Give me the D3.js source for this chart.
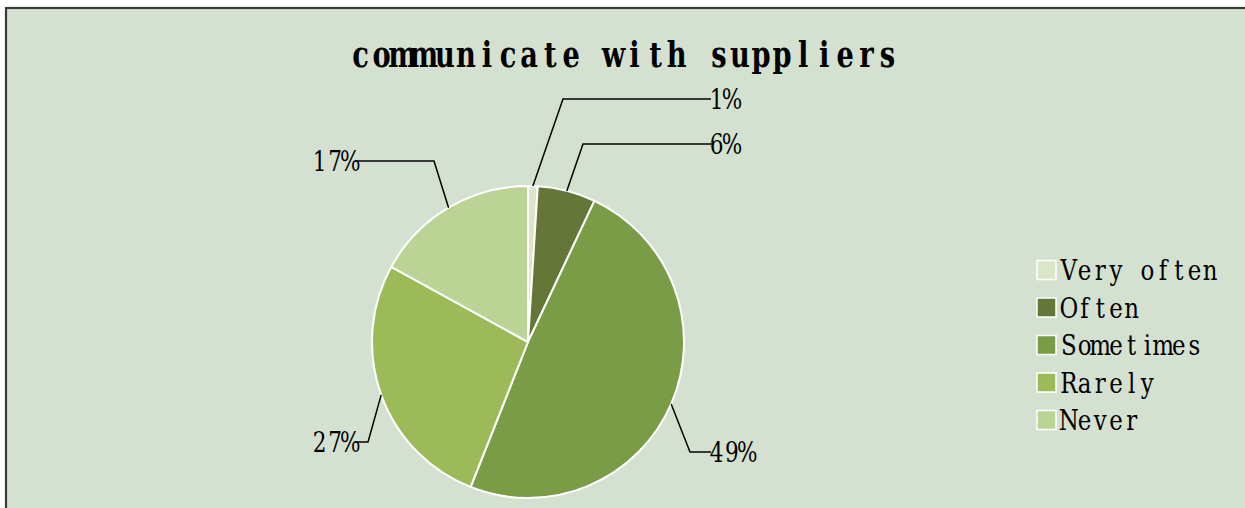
<!DOCTYPE html>
<html>
<head>
<meta charset="utf-8">
<script src="https://cdn.jsdelivr.net/npm/d3@7"></script>
<style>
  html, body { margin: 0; padding: 0; background: #ffffff; }
  svg { display: block; }
</style>
</head>
<body>
<svg id="chart" width="1245" height="508"></svg>
<script>
// ---- data ----
const categories = ["Very often", "Often", "Sometimes", "Rarely", "Never"];
const values = [1, 6, 49, 27, 17];
const labels = ["1%", "6%", "49%", "27%", "17%"];
const title = "communicate with suppliers";

// ---- style / layout (not data) ----
const colors = ["#dbe6c9", "#647738", "#7a9c47", "#9cbb58", "#bbd394"];
const bg = "#d5e1d0";
const W = 1245, H = 508;
const cx = 528, cy = 342, R = 156;
// leader-line elbow and end positions relative to pie centre
const labelLayout = [
  { elbow: [35, -243], end: [183, -243], anchor: "start" },
  { elbow: [55, -198], end: [183, -198], anchor: "start" },
  { elbow: [162, 110], end: [183, 110], anchor: "start" },
  { elbow: [-160, 100], end: [-173, 100], anchor: "end" },
  { elbow: [-94, -181], end: [-173, -181], anchor: "end" }
];
const serifFont = "'DejaVu Serif', 'Liberation Serif', serif";

const svg = d3.select("#chart");

// measure glyph advance widths for a given font
const measurer = svg.append("text").attr("x", -1000).attr("y", -1000).attr("font-family", serifFont);
const widthCache = {};
function glyphWidth(ch, size, weight) {
  const key = ch + "|" + size + "|" + weight;
  if (widthCache[key] === undefined) {
    measurer.attr("font-size", size).attr("font-weight", weight).text(ch === " " ? "\u00a0" : ch);
    widthCache[key] = measurer.node().getComputedTextLength();
  }
  return widthCache[key];
}
// draw a string with fixed-width character cells (SimSun-like monospace look)
function monoText(parent, str, x0, y, cell, size, sx, weight) {
  const xs = Array.from(str).map((ch, i) => {
    const w = glyphWidth(ch, size, weight) * sx;
    return ((i * cell + (cell - w) / 2) / sx).toFixed(2);
  });
  return parent.append("text")
    .attr("transform", `translate(${x0},${y}) scale(${sx},1)`)
    .attr("x", xs.join(" "))
    .attr("y", 0)
    .attr("font-family", serifFont)
    .attr("font-size", size)
    .attr("font-weight", weight)
    .attr("fill", "#000")
    .attr("xml:space", "preserve")
    .style("white-space", "pre")
    .text(str);
}

// frame
svg.append("rect").attr("x", 0).attr("y", 0).attr("width", W).attr("height", H).attr("fill", "#ffffff");
svg.append("rect").attr("x", 6).attr("y", 8).attr("width", W + 10).attr("height", H + 10)
  .attr("fill", bg).attr("stroke", "#3a3a3a").attr("stroke-width", 2.2);

// title
const titleCell = 548 / title.length;
monoText(svg, title, 350, 67, titleCell, 35, 0.78, "bold");

// pie
const data = categories.map((c, i) => ({ cat: c, value: values[i], label: labels[i], color: colors[i], layout: labelLayout[i] }));
const pie = d3.pie().sort(null).value(d => d.value).startAngle(0).endAngle(2 * Math.PI);
const arcs = pie(data);
const arc = d3.arc().innerRadius(0).outerRadius(R);
const edgeArc = d3.arc().innerRadius(R).outerRadius(R);

const g = svg.append("g").attr("transform", `translate(${cx},${cy})`);
g.selectAll("path.slice")
  .data(arcs)
  .join("path")
  .attr("class", "slice")
  .attr("d", arc)
  .attr("fill", d => d.data.color)
  .attr("stroke", "#ffffff")
  .attr("stroke-width", 2)
  .attr("stroke-linejoin", "round");

// leader lines
g.selectAll("polyline.leader")
  .data(arcs)
  .join("polyline")
  .attr("class", "leader")
  .attr("fill", "none")
  .attr("stroke", "#000")
  .attr("stroke-width", 1.5)
  .attr("points", d => {
    const p0 = edgeArc.centroid(d);
    const L = d.data.layout;
    return [p0, L.elbow, L.end].map(p => p.join(",")).join(" ");
  });

// labels
const labelCell = 15.3;
arcs.forEach(d => {
  const L = d.data.layout;
  const w = d.data.label.length * labelCell;
  const x = L.anchor === "start" ? L.end[0] - 2 : L.end[0] + 3 - w;
  monoText(g, d.data.label, x, L.end[1] + 10, labelCell, 27, 0.8, "normal").attr("class", "lbl");
});

// legend
const legend = svg.append("g").attr("transform", "translate(1037,270)");
const rowH = 37.5;
const legendCell = 15.7;
data.forEach((d, i) => {
  const row = legend.append("g").attr("class", "row").attr("transform", `translate(0,${i * rowH})`);
  row.append("rect")
    .attr("x", 0).attr("y", -9.5).attr("width", 19).attr("height", 19)
    .attr("fill", d.color)
    .attr("stroke", "#ffffff").attr("stroke-width", 1.5);
  monoText(row, d.cat, 24, 10, legendCell, 27, 0.85, "normal");
});
measurer.remove();
</script>
</body>
</html>
